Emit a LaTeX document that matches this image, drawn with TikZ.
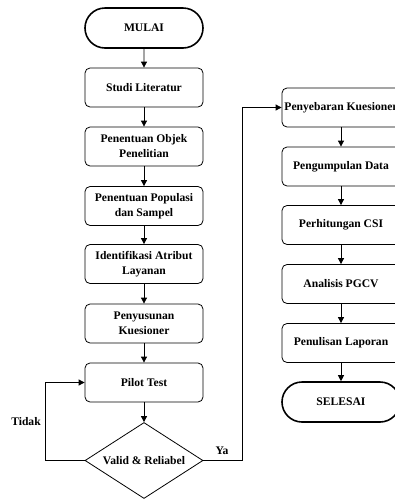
\documentclass[tikz,border=0pt]{standalone}
\usepackage{fontspec}
\setmainfont{Liberation Serif}
\usepackage{tikz}
\usetikzlibrary{shapes.geometric,shapes.misc,arrows.meta}

\begin{document}
\begin{tikzpicture}[x=1pt,y=-1pt,
		font=\fontsize{11.6}{15}\selectfont\bfseries,
		prosesbox/.style={draw=black,line width=0.8pt,rounded corners=5pt,minimum width=118pt,minimum height=39pt,align=center,inner sep=0pt},
		terminalbox/.style={draw=black,line width=1.6pt,rounded rectangle,minimum width=118pt,minimum height=40pt,inner sep=0pt},
		keputusan/.style={draw=black,line width=0.8pt,diamond,aspect=1.55,minimum width=118pt,minimum height=76pt,inner sep=0pt},
		panah/.style={draw=black,line width=0.8pt,-{Triangle[length=6pt,width=6pt]}},
		garis/.style={draw=black,line width=0.8pt}]
		\useasboundingbox (0,0) rectangle (395,499);
		
		% kolom kiri
		\node[terminalbox] (mulai) at (144,28) {MULAI};
		\node[prosesbox] (studi) at (144,87.5) {Studi Literatur};
		\node[prosesbox] (objek) at (144,146.5) {Penentuan Objek\\Penelitian};
		\node[prosesbox] (populasi) at (144,206) {Penentuan Populasi\\dan Sampel};
		\node[prosesbox] (atribut) at (144,264) {Identifikasi Atribut\\Layanan};
		\node[prosesbox] (susun) at (144,323.5) {Penyusunan\\Kuesioner};
		\node[prosesbox] (pilot) at (144,382.5) {Pilot Test};
		\node[keputusan] (valid) at (144,460.5) {Valid \& Reliabel};
		
		% kolom kanan
		\node[prosesbox] (sebar) at (341,107.5) {Penyebaran Kuesioner};
		\node[prosesbox] (kumpul) at (341,166.5) {Pengumpulan Data};
		\node[prosesbox] (csi) at (341,225) {Perhitungan CSI};
		\node[prosesbox] (pgcv) at (341,284) {Analisis PGCV};
		\node[prosesbox] (lapor) at (341,343) {Penulisan Laporan};
		\node[terminalbox] (selesai) at (341,402) {SELESAI};
		
		\draw[panah] (mulai) -- (studi);
		\draw[panah] (studi) -- (objek);
		\draw[panah] (objek) -- (populasi);
		\draw[panah] (populasi) -- (atribut);
		\draw[panah] (atribut) -- (susun);
		\draw[panah] (susun) -- (pilot);
		\draw[panah] (pilot) -- (valid);
		
		\draw[panah] (sebar) -- (kumpul);
		\draw[panah] (kumpul) -- (csi);
		\draw[panah] (csi) -- (pgcv);
		\draw[panah] (pgcv) -- (lapor);
		\draw[panah] (lapor) -- (selesai);
		
		% umpan balik
		\coordinate (tidakpojok) at (45,460.5);
		\coordinate (yapojok) at (242,460.5);
		\draw[panah] (valid.west) -- (tidakpojok) |- (pilot.west);
		\draw[panah] (valid.east) -- (yapojok) |- (sebar.west);
		\node (tidak) at (26,422) {Tidak};
		\node (ya) at (222,451) {Ya};
	\end{tikzpicture}
\end{document}
